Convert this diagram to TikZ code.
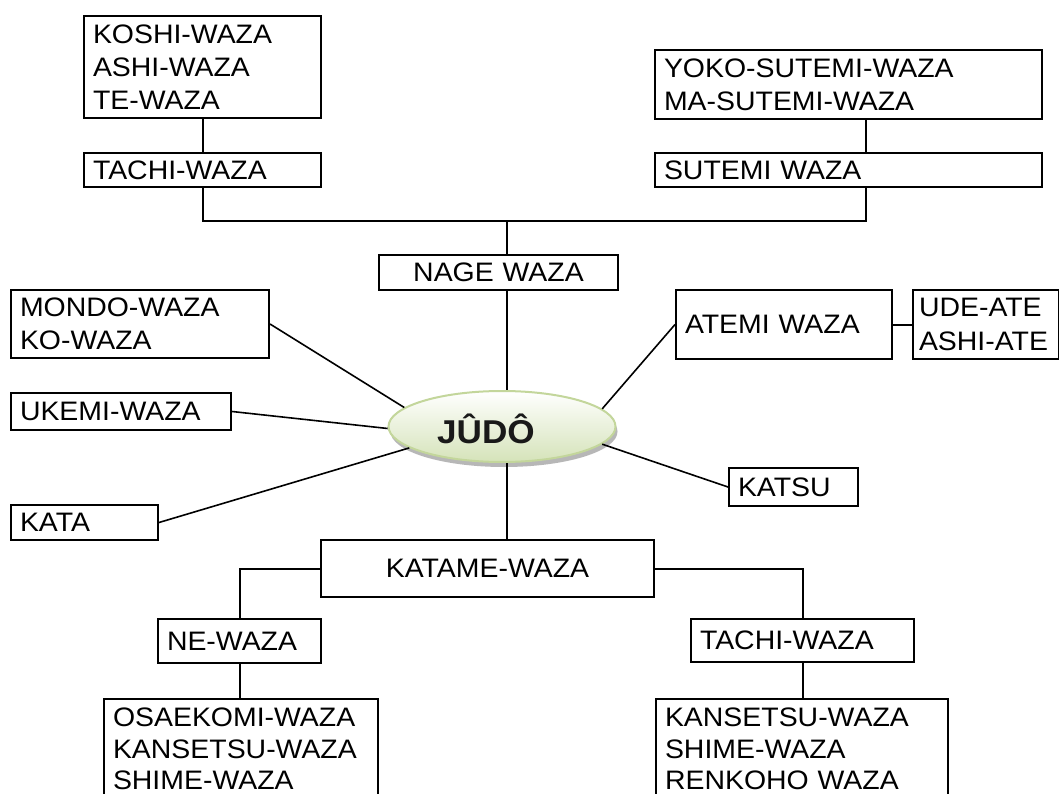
\documentclass[tikz,border=0pt]{standalone}
\usepackage{fontspec}
\setmainfont{Liberation Sans}[FakeStretch=1.065]
\usetikzlibrary{shapes.geometric,shadows}
\definecolor{judoline}{HTML}{C3D69B}
\definecolor{judofill}{HTML}{D5E3B9}
\begin{document}
\begin{tikzpicture}[x=1pt,y=-1pt,line width=2pt,
 box/.style={draw,anchor=north west,align=left,inner xsep=9pt,inner ysep=0pt,
  font=\fontsize{26.7}{33.3}\selectfont},
 lowbox/.style={box,font=\fontsize{26.7}{31.5}\selectfont,minimum height=100pt},
 spoke/.style={line width=1.6pt},
 judostyle/.style={ellipse,draw=judoline,line width=2pt,top color=white,
  bottom color=judofill,minimum width=227pt,minimum height=71pt,inner sep=0pt,
  drop shadow={shadow xshift=2pt,shadow yshift=-5pt,fill=black!35,opacity=.8}}]
 \path[use as bounding box,fill=white] (0,0) rectangle (1059,794);
 \clip (0,0) rectangle (1059,794);
 % nage waza
 \node[box,text width=219pt,minimum height=102pt] (koshi) at (83,15)
  {KOSHI-WAZA\\ASHI-WAZA\\TE-WAZA};
 \node[box,text width=219pt,minimum height=34pt] (tachiA) at (83,152) {TACHI-WAZA};
 \node[box,text width=369pt,minimum height=69pt] (yoko) at (654,49)
  {YOKO-SUTEMI-WAZA\\MA-SUTEMI-WAZA};
 \node[box,text width=369pt,minimum height=34pt] (sutemi) at (654,152) {SUTEMI WAZA};
 \node[box,align=center,text width=221pt,minimum height=35pt] (nage) at (378,254) {NAGE WAZA};
 % centre
 \node[judostyle,label={[name=judotxt,xshift=-16pt,yshift=-2pt,text=black!90,
  font=\fontsize{33}{38}\bfseries\selectfont]center:JÛDÔ}] (judo) at (502,426.5) {};
 % left side
 \node[box,text width=240pt,minimum height=68pt] (mondo) at (10,289) {MONDO-WAZA\\KO-WAZA};
 \node[box,text width=202pt,minimum height=37pt] (ukemi) at (10,392) {UKEMI-WAZA};
 \node[box,text width=129pt,minimum height=35pt] (kata) at (10,504) {KATA};
 % right side
 \node[box,text width=198pt,minimum height=69pt] (atemi) at (675,289) {ATEMI WAZA};
 \node[box,inner xsep=6pt,text width=134pt,minimum height=69pt] (ude) at (912,289)
  {UDE-ATE\\ASHI-ATE};
 \node[box,text width=111pt,minimum height=38pt] (katsu) at (728,467) {KATSU};
 % katame waza
 \node[box,align=center,text width=315pt,minimum height=57pt] (katame) at (320,539) {KATAME-WAZA};
 \node[box,text width=145pt,minimum height=44pt] (ne) at (157,618) {NE-WAZA};
 \node[box,text width=205pt,minimum height=43pt] (tachiB) at (690,618) {TACHI-WAZA};
 \node[lowbox,text width=256pt] (osae) at (103,698)
  {OSAEKOMI-WAZA\\KANSETSU-WAZA\\SHIME-WAZA};
 \node[lowbox,text width=274pt] (kans) at (655,698)
  {KANSETSU-WAZA\\SHIME-WAZA\\RENKOHO WAZA};
 % connectors
 \coordinate (bar) at (0,221);
 \coordinate (sutR) at (866,0);
 \coordinate (trunk) at (507,0);
 \draw (koshi.south) -- (tachiA.north);
 \draw (yoko.south -| sutR) -- (sutemi.north -| sutR);
 \draw (tachiA.south) -- (tachiA.south |- bar) -- (bar -| sutR) -- (sutemi.south -| sutR);
 \draw (bar -| trunk) -- (nage.north -| trunk);
 \draw (nage.south -| trunk) -- (judo.north -| trunk);
 \draw (judo.south -| trunk) -- (katame.north -| trunk);
 \draw (katame.west) -| (ne.north);
 \draw (katame.east) -| (tachiB.north);
 \draw (ne.south) -- (ne.south |- osae.north);
 \draw (tachiB.south) -- (tachiB.south |- kans.north);
 \draw (atemi.east) -- (ude.west);
 \begin{scope}[spoke]
 \draw (mondo.east) -- (judo.169);
 \draw (ukemi.east) -- (judo.181);
 \draw (kata.east) -- (judo.193);
 \draw (atemi.west) -- (judo.10);
 \draw (katsu.west) -- (judo.350);
 \end{scope}
\end{tikzpicture}
\end{document}
